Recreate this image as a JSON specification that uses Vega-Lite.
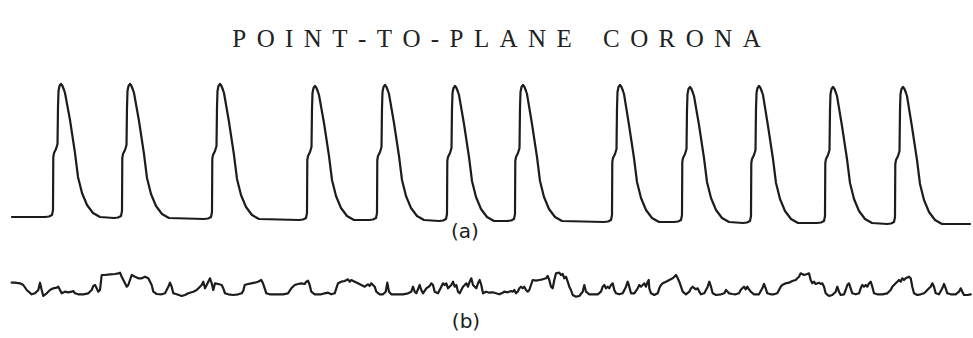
{
  "$schema": "https://vega.github.io/schema/vega-lite/v6.json",
  "width": 973,
  "height": 338,
  "autosize": {"type": "fit", "contains": "padding"},
  "padding": 0,
  "background": "white",
  "config": {"view": {"stroke": null}},
  "datasets": {
    "traces": [
      {"trace": "a", "t": 12, "v": 121},
      {"trace": "a", "t": 45, "v": 121}, {"trace": "a", "t": 49, "v": 121.5}, {"trace": "a", "t": 52, "v": 123}, {"trace": "a", "t": 53, "v": 128}, {"trace": "a", "t": 53.3, "v": 181}, {"trace": "a", "t": 54, "v": 185}, {"trace": "a", "t": 56, "v": 189}, {"trace": "a", "t": 57.5, "v": 194}, {"trace": "a", "t": 58, "v": 231}, {"trace": "a", "t": 58.5, "v": 247}, {"trace": "a", "t": 59.5, "v": 252}, {"trace": "a", "t": 61, "v": 254}, {"trace": "a", "t": 62.5, "v": 252}, {"trace": "a", "t": 64, "v": 248}, {"trace": "a", "t": 65, "v": 245}, {"trace": "a", "t": 70, "v": 218}, {"trace": "a", "t": 75, "v": 185}, {"trace": "a", "t": 78, "v": 161}, {"trace": "a", "t": 82, "v": 145}, {"trace": "a", "t": 87, "v": 133}, {"trace": "a", "t": 93, "v": 125}, {"trace": "a", "t": 100, "v": 121},
      {"trace": "a", "t": 114, "v": 120}, {"trace": "a", "t": 118, "v": 120.5}, {"trace": "a", "t": 121, "v": 122}, {"trace": "a", "t": 122, "v": 127}, {"trace": "a", "t": 122.3, "v": 180}, {"trace": "a", "t": 123, "v": 184}, {"trace": "a", "t": 125, "v": 188}, {"trace": "a", "t": 126.5, "v": 193}, {"trace": "a", "t": 127, "v": 231}, {"trace": "a", "t": 127.5, "v": 247}, {"trace": "a", "t": 128.5, "v": 252}, {"trace": "a", "t": 130, "v": 254}, {"trace": "a", "t": 131.5, "v": 252}, {"trace": "a", "t": 133, "v": 248}, {"trace": "a", "t": 134, "v": 245}, {"trace": "a", "t": 139, "v": 217}, {"trace": "a", "t": 144, "v": 184}, {"trace": "a", "t": 147, "v": 160}, {"trace": "a", "t": 151, "v": 144}, {"trace": "a", "t": 156, "v": 132}, {"trace": "a", "t": 162, "v": 124}, {"trace": "a", "t": 169, "v": 120},
      {"trace": "a", "t": 204, "v": 119}, {"trace": "a", "t": 208, "v": 119.5}, {"trace": "a", "t": 211, "v": 121}, {"trace": "a", "t": 212, "v": 126}, {"trace": "a", "t": 212.3, "v": 179}, {"trace": "a", "t": 213, "v": 183}, {"trace": "a", "t": 215, "v": 187}, {"trace": "a", "t": 216.5, "v": 192}, {"trace": "a", "t": 217, "v": 231}, {"trace": "a", "t": 217.5, "v": 247}, {"trace": "a", "t": 218.5, "v": 252}, {"trace": "a", "t": 220, "v": 254}, {"trace": "a", "t": 221.5, "v": 252}, {"trace": "a", "t": 223, "v": 248}, {"trace": "a", "t": 224, "v": 245}, {"trace": "a", "t": 229, "v": 216}, {"trace": "a", "t": 234, "v": 183}, {"trace": "a", "t": 237, "v": 159}, {"trace": "a", "t": 241, "v": 143}, {"trace": "a", "t": 246, "v": 131}, {"trace": "a", "t": 252, "v": 123}, {"trace": "a", "t": 259, "v": 119},
      {"trace": "a", "t": 299, "v": 118}, {"trace": "a", "t": 303, "v": 118.5}, {"trace": "a", "t": 306, "v": 120}, {"trace": "a", "t": 307, "v": 125}, {"trace": "a", "t": 307.3, "v": 178}, {"trace": "a", "t": 308, "v": 182}, {"trace": "a", "t": 310, "v": 186}, {"trace": "a", "t": 311.5, "v": 191}, {"trace": "a", "t": 312, "v": 229}, {"trace": "a", "t": 312.5, "v": 245}, {"trace": "a", "t": 313.5, "v": 250}, {"trace": "a", "t": 315, "v": 252}, {"trace": "a", "t": 316.5, "v": 250}, {"trace": "a", "t": 318, "v": 246}, {"trace": "a", "t": 319, "v": 243}, {"trace": "a", "t": 324, "v": 215}, {"trace": "a", "t": 329, "v": 182}, {"trace": "a", "t": 332, "v": 158}, {"trace": "a", "t": 336, "v": 142}, {"trace": "a", "t": 341, "v": 130}, {"trace": "a", "t": 347, "v": 122}, {"trace": "a", "t": 354, "v": 118},
      {"trace": "a", "t": 369, "v": 118}, {"trace": "a", "t": 373, "v": 118.5}, {"trace": "a", "t": 376, "v": 120}, {"trace": "a", "t": 377, "v": 125}, {"trace": "a", "t": 377.3, "v": 178}, {"trace": "a", "t": 378, "v": 182}, {"trace": "a", "t": 380, "v": 186}, {"trace": "a", "t": 381.5, "v": 191}, {"trace": "a", "t": 382, "v": 230}, {"trace": "a", "t": 382.5, "v": 246}, {"trace": "a", "t": 383.5, "v": 251}, {"trace": "a", "t": 385, "v": 253}, {"trace": "a", "t": 386.5, "v": 251}, {"trace": "a", "t": 388, "v": 247}, {"trace": "a", "t": 389, "v": 244}, {"trace": "a", "t": 394, "v": 215}, {"trace": "a", "t": 399, "v": 182}, {"trace": "a", "t": 402, "v": 158}, {"trace": "a", "t": 406, "v": 142}, {"trace": "a", "t": 411, "v": 130}, {"trace": "a", "t": 417, "v": 122}, {"trace": "a", "t": 424, "v": 118},
      {"trace": "a", "t": 439, "v": 117}, {"trace": "a", "t": 443, "v": 117.5}, {"trace": "a", "t": 446, "v": 119}, {"trace": "a", "t": 447, "v": 124}, {"trace": "a", "t": 447.3, "v": 177}, {"trace": "a", "t": 448, "v": 181}, {"trace": "a", "t": 450, "v": 185}, {"trace": "a", "t": 451.5, "v": 190}, {"trace": "a", "t": 452, "v": 229}, {"trace": "a", "t": 452.5, "v": 245}, {"trace": "a", "t": 453.5, "v": 250}, {"trace": "a", "t": 455, "v": 252}, {"trace": "a", "t": 456.5, "v": 250}, {"trace": "a", "t": 458, "v": 246}, {"trace": "a", "t": 459, "v": 243}, {"trace": "a", "t": 464, "v": 214}, {"trace": "a", "t": 469, "v": 181}, {"trace": "a", "t": 472, "v": 157}, {"trace": "a", "t": 476, "v": 141}, {"trace": "a", "t": 481, "v": 129}, {"trace": "a", "t": 487, "v": 121}, {"trace": "a", "t": 494, "v": 117},
      {"trace": "a", "t": 507, "v": 117}, {"trace": "a", "t": 511, "v": 117.5}, {"trace": "a", "t": 514, "v": 119}, {"trace": "a", "t": 515, "v": 124}, {"trace": "a", "t": 515.3, "v": 177}, {"trace": "a", "t": 516, "v": 181}, {"trace": "a", "t": 518, "v": 185}, {"trace": "a", "t": 519.5, "v": 190}, {"trace": "a", "t": 520, "v": 230}, {"trace": "a", "t": 520.5, "v": 246}, {"trace": "a", "t": 521.5, "v": 251}, {"trace": "a", "t": 523, "v": 253}, {"trace": "a", "t": 524.5, "v": 251}, {"trace": "a", "t": 526, "v": 247}, {"trace": "a", "t": 527, "v": 244}, {"trace": "a", "t": 532, "v": 214}, {"trace": "a", "t": 537, "v": 181}, {"trace": "a", "t": 540, "v": 157}, {"trace": "a", "t": 544, "v": 141}, {"trace": "a", "t": 549, "v": 129}, {"trace": "a", "t": 555, "v": 121}, {"trace": "a", "t": 562, "v": 117},
      {"trace": "a", "t": 604, "v": 116}, {"trace": "a", "t": 608, "v": 116.5}, {"trace": "a", "t": 611, "v": 118}, {"trace": "a", "t": 612, "v": 123}, {"trace": "a", "t": 612.3, "v": 176}, {"trace": "a", "t": 613, "v": 180}, {"trace": "a", "t": 615, "v": 184}, {"trace": "a", "t": 616.5, "v": 189}, {"trace": "a", "t": 617, "v": 230}, {"trace": "a", "t": 617.5, "v": 246}, {"trace": "a", "t": 618.5, "v": 251}, {"trace": "a", "t": 620, "v": 253}, {"trace": "a", "t": 621.5, "v": 251}, {"trace": "a", "t": 623, "v": 247}, {"trace": "a", "t": 624, "v": 244}, {"trace": "a", "t": 629, "v": 213}, {"trace": "a", "t": 634, "v": 180}, {"trace": "a", "t": 637, "v": 156}, {"trace": "a", "t": 641, "v": 140}, {"trace": "a", "t": 646, "v": 128}, {"trace": "a", "t": 652, "v": 120}, {"trace": "a", "t": 659, "v": 116},
      {"trace": "a", "t": 674, "v": 116}, {"trace": "a", "t": 678, "v": 116.5}, {"trace": "a", "t": 681, "v": 118}, {"trace": "a", "t": 682, "v": 123}, {"trace": "a", "t": 682.3, "v": 176}, {"trace": "a", "t": 683, "v": 180}, {"trace": "a", "t": 685, "v": 184}, {"trace": "a", "t": 686.5, "v": 189}, {"trace": "a", "t": 687, "v": 228}, {"trace": "a", "t": 687.5, "v": 244}, {"trace": "a", "t": 688.5, "v": 249}, {"trace": "a", "t": 690, "v": 251}, {"trace": "a", "t": 691.5, "v": 249}, {"trace": "a", "t": 693, "v": 245}, {"trace": "a", "t": 694, "v": 242}, {"trace": "a", "t": 699, "v": 213}, {"trace": "a", "t": 704, "v": 180}, {"trace": "a", "t": 707, "v": 156}, {"trace": "a", "t": 711, "v": 140}, {"trace": "a", "t": 716, "v": 128}, {"trace": "a", "t": 722, "v": 120}, {"trace": "a", "t": 729, "v": 116},
      {"trace": "a", "t": 743, "v": 115}, {"trace": "a", "t": 747, "v": 115.5}, {"trace": "a", "t": 750, "v": 117}, {"trace": "a", "t": 751, "v": 122}, {"trace": "a", "t": 751.3, "v": 175}, {"trace": "a", "t": 752, "v": 179}, {"trace": "a", "t": 754, "v": 183}, {"trace": "a", "t": 755.5, "v": 188}, {"trace": "a", "t": 756, "v": 229}, {"trace": "a", "t": 756.5, "v": 245}, {"trace": "a", "t": 757.5, "v": 250}, {"trace": "a", "t": 759, "v": 252}, {"trace": "a", "t": 760.5, "v": 250}, {"trace": "a", "t": 762, "v": 246}, {"trace": "a", "t": 763, "v": 243}, {"trace": "a", "t": 768, "v": 212}, {"trace": "a", "t": 773, "v": 179}, {"trace": "a", "t": 776, "v": 155}, {"trace": "a", "t": 780, "v": 139}, {"trace": "a", "t": 785, "v": 127}, {"trace": "a", "t": 791, "v": 119}, {"trace": "a", "t": 798, "v": 115},
      {"trace": "a", "t": 817, "v": 115}, {"trace": "a", "t": 821, "v": 115.5}, {"trace": "a", "t": 824, "v": 117}, {"trace": "a", "t": 825, "v": 122}, {"trace": "a", "t": 825.3, "v": 175}, {"trace": "a", "t": 826, "v": 179}, {"trace": "a", "t": 828, "v": 183}, {"trace": "a", "t": 829.5, "v": 188}, {"trace": "a", "t": 830, "v": 228}, {"trace": "a", "t": 830.5, "v": 244}, {"trace": "a", "t": 831.5, "v": 249}, {"trace": "a", "t": 833, "v": 251}, {"trace": "a", "t": 834.5, "v": 249}, {"trace": "a", "t": 836, "v": 245}, {"trace": "a", "t": 837, "v": 242}, {"trace": "a", "t": 842, "v": 212}, {"trace": "a", "t": 847, "v": 179}, {"trace": "a", "t": 850, "v": 155}, {"trace": "a", "t": 854, "v": 139}, {"trace": "a", "t": 859, "v": 127}, {"trace": "a", "t": 865, "v": 119}, {"trace": "a", "t": 872, "v": 115},
      {"trace": "a", "t": 887, "v": 114}, {"trace": "a", "t": 891, "v": 114.5}, {"trace": "a", "t": 894, "v": 116}, {"trace": "a", "t": 895, "v": 121}, {"trace": "a", "t": 895.3, "v": 174}, {"trace": "a", "t": 896, "v": 178}, {"trace": "a", "t": 898, "v": 182}, {"trace": "a", "t": 899.5, "v": 187}, {"trace": "a", "t": 900, "v": 228}, {"trace": "a", "t": 900.5, "v": 244}, {"trace": "a", "t": 901.5, "v": 249}, {"trace": "a", "t": 903, "v": 251}, {"trace": "a", "t": 904.5, "v": 249}, {"trace": "a", "t": 906, "v": 245}, {"trace": "a", "t": 907, "v": 242}, {"trace": "a", "t": 912, "v": 211}, {"trace": "a", "t": 917, "v": 178}, {"trace": "a", "t": 920, "v": 154}, {"trace": "a", "t": 924, "v": 138}, {"trace": "a", "t": 929, "v": 126}, {"trace": "a", "t": 935, "v": 118}, {"trace": "a", "t": 942, "v": 114},
      {"trace": "a", "t": 970, "v": 114},

      {"trace": "b", "t": 11.7, "v": 55.3}, {"trace": "b", "t": 15, "v": 55.3}, {"trace": "b", "t": 20, "v": 54.7}, {"trace": "b", "t": 23.3, "v": 53}, {"trace": "b", "t": 26.7, "v": 48}, {"trace": "b", "t": 31.7, "v": 43.7}, {"trace": "b", "t": 35, "v": 44.7}, {"trace": "b", "t": 38.3, "v": 48}, {"trace": "b", "t": 40, "v": 55.3}, {"trace": "b", "t": 41.7, "v": 48}, {"trace": "b", "t": 43.3, "v": 42}, {"trace": "b", "t": 46.7, "v": 44.7}, {"trace": "b", "t": 50, "v": 48}, {"trace": "b", "t": 53.3, "v": 49.7}, {"trace": "b", "t": 56.7, "v": 50.3}, {"trace": "b", "t": 58.3, "v": 51.3}, {"trace": "b", "t": 60, "v": 48}, {"trace": "b", "t": 61.7, "v": 44.7}, {"trace": "b", "t": 65, "v": 46.3}, {"trace": "b", "t": 68.3, "v": 45.7}, {"trace": "b", "t": 71.7, "v": 46.3}, {"trace": "b", "t": 73.3, "v": 47}, {"trace": "b", "t": 75, "v": 44.7}, {"trace": "b", "t": 78.3, "v": 43.7}, {"trace": "b", "t": 83.3, "v": 43.7}, {"trace": "b", "t": 88.3, "v": 44.7}, {"trace": "b", "t": 91.7, "v": 48}, {"trace": "b", "t": 93.3, "v": 52}, {"trace": "b", "t": 95, "v": 53}, {"trace": "b", "t": 96.7, "v": 49.7}, {"trace": "b", "t": 98.3, "v": 46.3}, {"trace": "b", "t": 100, "v": 48},
      {"trace": "b", "t": 101.7, "v": 63}, {"trace": "b", "t": 105, "v": 63}, {"trace": "b", "t": 110, "v": 63.7}, {"trace": "b", "t": 115, "v": 64}, {"trace": "b", "t": 118.3, "v": 64.7}, {"trace": "b", "t": 120, "v": 65.3}, {"trace": "b", "t": 121.7, "v": 61.3}, {"trace": "b", "t": 125, "v": 54.7}, {"trace": "b", "t": 126.7, "v": 51.3}, {"trace": "b", "t": 128.3, "v": 53}, {"trace": "b", "t": 131.7, "v": 63}, {"trace": "b", "t": 135, "v": 61.3}, {"trace": "b", "t": 138.3, "v": 59.7}, {"trace": "b", "t": 141.7, "v": 59.7}, {"trace": "b", "t": 145, "v": 61.3}, {"trace": "b", "t": 148.3, "v": 59.7}, {"trace": "b", "t": 151.7, "v": 53}, {"trace": "b", "t": 153.3, "v": 46.3}, {"trace": "b", "t": 156.7, "v": 44}, {"trace": "b", "t": 161.7, "v": 43.7}, {"trace": "b", "t": 165, "v": 44.7}, {"trace": "b", "t": 168.3, "v": 51.3}, {"trace": "b", "t": 170, "v": 55.3}, {"trace": "b", "t": 171.7, "v": 51.3}, {"trace": "b", "t": 173.3, "v": 44.7}, {"trace": "b", "t": 176.7, "v": 43.7}, {"trace": "b", "t": 181.7, "v": 42}, {"trace": "b", "t": 185, "v": 43}, {"trace": "b", "t": 188.3, "v": 44.7}, {"trace": "b", "t": 193.3, "v": 46.3}, {"trace": "b", "t": 196.7, "v": 48}, {"trace": "b", "t": 200, "v": 51.3},
      {"trace": "b", "t": 201.7, "v": 53}, {"trace": "b", "t": 203.3, "v": 56.3}, {"trace": "b", "t": 205, "v": 49.7}, {"trace": "b", "t": 206.7, "v": 53}, {"trace": "b", "t": 208.3, "v": 56.3}, {"trace": "b", "t": 210, "v": 59.7}, {"trace": "b", "t": 211.7, "v": 54.7}, {"trace": "b", "t": 213.3, "v": 48}, {"trace": "b", "t": 215, "v": 54.7}, {"trace": "b", "t": 218.3, "v": 54}, {"trace": "b", "t": 221.7, "v": 53}, {"trace": "b", "t": 223.3, "v": 49.7}, {"trace": "b", "t": 225, "v": 44.7}, {"trace": "b", "t": 228.3, "v": 43.7}, {"trace": "b", "t": 233.3, "v": 43}, {"trace": "b", "t": 238.3, "v": 43.7}, {"trace": "b", "t": 241.7, "v": 44.7}, {"trace": "b", "t": 243.3, "v": 47.3},
      {"trace": "b", "t": 244.7, "v": 53}, {"trace": "b", "t": 248, "v": 54}, {"trace": "b", "t": 251.3, "v": 54.7}, {"trace": "b", "t": 254.7, "v": 55.3}, {"trace": "b", "t": 258, "v": 56.3}, {"trace": "b", "t": 261.3, "v": 58}, {"trace": "b", "t": 263, "v": 54.7}, {"trace": "b", "t": 264.7, "v": 49.7}, {"trace": "b", "t": 266.3, "v": 44.7}, {"trace": "b", "t": 269.7, "v": 43.7}, {"trace": "b", "t": 276.3, "v": 43.7}, {"trace": "b", "t": 283, "v": 43.7}, {"trace": "b", "t": 288, "v": 44.7}, {"trace": "b", "t": 291.3, "v": 49.7}, {"trace": "b", "t": 294.7, "v": 53}, {"trace": "b", "t": 298, "v": 54}, {"trace": "b", "t": 301.3, "v": 54.7}, {"trace": "b", "t": 304.7, "v": 54}, {"trace": "b", "t": 306.3, "v": 56.3}, {"trace": "b", "t": 308, "v": 57.3}, {"trace": "b", "t": 309.7, "v": 53}, {"trace": "b", "t": 311.3, "v": 46.3}, {"trace": "b", "t": 314.7, "v": 43.7}, {"trace": "b", "t": 321.3, "v": 43.7}, {"trace": "b", "t": 324.7, "v": 44.7}, {"trace": "b", "t": 328, "v": 45.3}, {"trace": "b", "t": 331.3, "v": 43.7}, {"trace": "b", "t": 334.7, "v": 44.7}, {"trace": "b", "t": 336.3, "v": 49.7}, {"trace": "b", "t": 338, "v": 54.7},
      {"trace": "b", "t": 341.3, "v": 56.3}, {"trace": "b", "t": 344.7, "v": 57}, {"trace": "b", "t": 348, "v": 58.7}, {"trace": "b", "t": 349.7, "v": 56.3}, {"trace": "b", "t": 351.3, "v": 58}, {"trace": "b", "t": 354.7, "v": 56.3}, {"trace": "b", "t": 358, "v": 54.7}, {"trace": "b", "t": 361.3, "v": 53}, {"trace": "b", "t": 364.7, "v": 51.3}, {"trace": "b", "t": 368, "v": 53.7}, {"trace": "b", "t": 369.7, "v": 52}, {"trace": "b", "t": 371.3, "v": 54.7}, {"trace": "b", "t": 373, "v": 53}, {"trace": "b", "t": 374.7, "v": 51.3}, {"trace": "b", "t": 376.3, "v": 46.3}, {"trace": "b", "t": 379.7, "v": 43.7}, {"trace": "b", "t": 383, "v": 43.7}, {"trace": "b", "t": 385.7, "v": 46.3}, {"trace": "b", "t": 387.3, "v": 55.3}, {"trace": "b", "t": 389, "v": 46.3}, {"trace": "b", "t": 391.3, "v": 43.7}, {"trace": "b", "t": 396.3, "v": 43.7}, {"trace": "b", "t": 403, "v": 43.7}, {"trace": "b", "t": 408, "v": 44.7}, {"trace": "b", "t": 411.3, "v": 46.3}, {"trace": "b", "t": 413, "v": 51.3}, {"trace": "b", "t": 414.7, "v": 46.3}, {"trace": "b", "t": 416.3, "v": 44.7}, {"trace": "b", "t": 419.7, "v": 53}, {"trace": "b", "t": 421.3, "v": 48},
      {"trace": "b", "t": 423, "v": 44.7}, {"trace": "b", "t": 426.3, "v": 49.7}, {"trace": "b", "t": 429.7, "v": 52}, {"trace": "b", "t": 431.3, "v": 54.7}, {"trace": "b", "t": 433, "v": 53}, {"trace": "b", "t": 434.7, "v": 46.3}, {"trace": "b", "t": 438, "v": 44.7}, {"trace": "b", "t": 441.3, "v": 51.3}, {"trace": "b", "t": 443, "v": 54.7}, {"trace": "b", "t": 444.7, "v": 53}, {"trace": "b", "t": 446.3, "v": 54.7}, {"trace": "b", "t": 448, "v": 49.7}, {"trace": "b", "t": 451.3, "v": 53}, {"trace": "b", "t": 453, "v": 56.3}, {"trace": "b", "t": 454.7, "v": 51.3}, {"trace": "b", "t": 456.3, "v": 53}, {"trace": "b", "t": 458, "v": 46.3}, {"trace": "b", "t": 459.7, "v": 44.7}, {"trace": "b", "t": 461.3, "v": 48}, {"trace": "b", "t": 463, "v": 51.3}, {"trace": "b", "t": 464.7, "v": 53}, {"trace": "b", "t": 466.3, "v": 54.7}, {"trace": "b", "t": 468, "v": 51.3}, {"trace": "b", "t": 469.7, "v": 56.3}, {"trace": "b", "t": 471.3, "v": 59.7}, {"trace": "b", "t": 473, "v": 53}, {"trace": "b", "t": 474.7, "v": 51.3}, {"trace": "b", "t": 476.3, "v": 49.7}, {"trace": "b", "t": 478, "v": 54.7}, {"trace": "b", "t": 479.7, "v": 58}, {"trace": "b", "t": 481.3, "v": 53}, {"trace": "b", "t": 483, "v": 44.7},
      {"trace": "b", "t": 486, "v": 46.3}, {"trace": "b", "t": 489.3, "v": 45.3}, {"trace": "b", "t": 492.7, "v": 45.7}, {"trace": "b", "t": 496, "v": 44.7}, {"trace": "b", "t": 499.3, "v": 43.7}, {"trace": "b", "t": 502.7, "v": 45.3}, {"trace": "b", "t": 504.3, "v": 46.3}, {"trace": "b", "t": 507.7, "v": 45.7}, {"trace": "b", "t": 511, "v": 47}, {"trace": "b", "t": 512.7, "v": 46.3}, {"trace": "b", "t": 514.3, "v": 48}, {"trace": "b", "t": 516, "v": 44.7}, {"trace": "b", "t": 517.7, "v": 46.3}, {"trace": "b", "t": 519.3, "v": 49.7}, {"trace": "b", "t": 521, "v": 51.3}, {"trace": "b", "t": 522.7, "v": 49.7}, {"trace": "b", "t": 524.3, "v": 51.3}, {"trace": "b", "t": 526, "v": 48}, {"trace": "b", "t": 527.7, "v": 46.3}, {"trace": "b", "t": 529.3, "v": 48}, {"trace": "b", "t": 531, "v": 53}, {"trace": "b", "t": 532.7, "v": 58}, {"trace": "b", "t": 536, "v": 57.3}, {"trace": "b", "t": 539.3, "v": 58}, {"trace": "b", "t": 542.7, "v": 58.7}, {"trace": "b", "t": 546, "v": 59.7}, {"trace": "b", "t": 547.7, "v": 62}, {"trace": "b", "t": 549.3, "v": 58}, {"trace": "b", "t": 551, "v": 51.3}, {"trace": "b", "t": 552.7, "v": 49.7},
      {"trace": "b", "t": 554.3, "v": 58}, {"trace": "b", "t": 556, "v": 64.7}, {"trace": "b", "t": 559.3, "v": 65.3}, {"trace": "b", "t": 561, "v": 63}, {"trace": "b", "t": 562.7, "v": 64}, {"trace": "b", "t": 564.3, "v": 59.7}, {"trace": "b", "t": 566, "v": 61.3}, {"trace": "b", "t": 567.7, "v": 56.3}, {"trace": "b", "t": 569.3, "v": 51.3}, {"trace": "b", "t": 571, "v": 48}, {"trace": "b", "t": 572.7, "v": 43}, {"trace": "b", "t": 576, "v": 41.3}, {"trace": "b", "t": 579.3, "v": 42}, {"trace": "b", "t": 582.7, "v": 46.3}, {"trace": "b", "t": 584.3, "v": 53}, {"trace": "b", "t": 586, "v": 46.3}, {"trace": "b", "t": 589.3, "v": 43.7}, {"trace": "b", "t": 592.7, "v": 43.7}, {"trace": "b", "t": 597.7, "v": 43.7}, {"trace": "b", "t": 601, "v": 46.3}, {"trace": "b", "t": 602.7, "v": 51.3}, {"trace": "b", "t": 604.3, "v": 53}, {"trace": "b", "t": 606, "v": 49.7}, {"trace": "b", "t": 607.7, "v": 51.3}, {"trace": "b", "t": 609.3, "v": 49.7}, {"trace": "b", "t": 611, "v": 53}, {"trace": "b", "t": 612.7, "v": 54.7}, {"trace": "b", "t": 614.3, "v": 48}, {"trace": "b", "t": 616, "v": 44.7}, {"trace": "b", "t": 619.3, "v": 43.7},
      {"trace": "b", "t": 622.7, "v": 44.7}, {"trace": "b", "t": 626, "v": 51.3}, {"trace": "b", "t": 627.7, "v": 56.3}, {"trace": "b", "t": 629.3, "v": 51.3}, {"trace": "b", "t": 631, "v": 44.7}, {"trace": "b", "t": 634.3, "v": 44.7}, {"trace": "b", "t": 637.7, "v": 49.7}, {"trace": "b", "t": 639.3, "v": 53}, {"trace": "b", "t": 641, "v": 51.3}, {"trace": "b", "t": 642.7, "v": 53}, {"trace": "b", "t": 644.3, "v": 54.7}, {"trace": "b", "t": 646, "v": 51.3}, {"trace": "b", "t": 647.7, "v": 56.3}, {"trace": "b", "t": 648.7, "v": 58}, {"trace": "b", "t": 649.3, "v": 49.7}, {"trace": "b", "t": 651, "v": 44.7}, {"trace": "b", "t": 654.3, "v": 43}, {"trace": "b", "t": 657.7, "v": 44.7}, {"trace": "b", "t": 659.3, "v": 49.7}, {"trace": "b", "t": 661, "v": 53}, {"trace": "b", "t": 662.7, "v": 54.7}, {"trace": "b", "t": 666, "v": 56.3}, {"trace": "b", "t": 669.3, "v": 58}, {"trace": "b", "t": 672.7, "v": 59.7}, {"trace": "b", "t": 674.3, "v": 61.3}, {"trace": "b", "t": 676, "v": 63}, {"trace": "b", "t": 677.7, "v": 59.7}, {"trace": "b", "t": 679.3, "v": 56.3}, {"trace": "b", "t": 681, "v": 51.3}, {"trace": "b", "t": 682.7, "v": 46.3},
      {"trace": "b", "t": 686, "v": 43.7}, {"trace": "b", "t": 689.3, "v": 46.3}, {"trace": "b", "t": 691, "v": 49.7}, {"trace": "b", "t": 692.7, "v": 51.3}, {"trace": "b", "t": 694.3, "v": 49.7}, {"trace": "b", "t": 696, "v": 48.7}, {"trace": "b", "t": 697.7, "v": 49.7}, {"trace": "b", "t": 699.3, "v": 46.3}, {"trace": "b", "t": 701, "v": 43.7}, {"trace": "b", "t": 704.3, "v": 44.7}, {"trace": "b", "t": 707.7, "v": 51.3}, {"trace": "b", "t": 709.3, "v": 56.3}, {"trace": "b", "t": 711, "v": 51.3}, {"trace": "b", "t": 712.7, "v": 44.7}, {"trace": "b", "t": 716, "v": 43}, {"trace": "b", "t": 721, "v": 43.7}, {"trace": "b", "t": 724.3, "v": 44.7}, {"trace": "b", "t": 726, "v": 48},
      {"trace": "b", "t": 729, "v": 44.7}, {"trace": "b", "t": 732.3, "v": 44}, {"trace": "b", "t": 735.7, "v": 43.7}, {"trace": "b", "t": 739, "v": 44.7}, {"trace": "b", "t": 740.7, "v": 48}, {"trace": "b", "t": 742.3, "v": 49.7}, {"trace": "b", "t": 744, "v": 51.3}, {"trace": "b", "t": 745.7, "v": 48.7}, {"trace": "b", "t": 747.3, "v": 51.3}, {"trace": "b", "t": 749, "v": 48.7}, {"trace": "b", "t": 750.7, "v": 46.3}, {"trace": "b", "t": 754, "v": 43.7}, {"trace": "b", "t": 759, "v": 43.7}, {"trace": "b", "t": 762.3, "v": 49.7}, {"trace": "b", "t": 764, "v": 54}, {"trace": "b", "t": 765.7, "v": 49.7}, {"trace": "b", "t": 767.3, "v": 44.7}, {"trace": "b", "t": 770.7, "v": 43.7}, {"trace": "b", "t": 774, "v": 43.7}, {"trace": "b", "t": 777.3, "v": 44.7}, {"trace": "b", "t": 779, "v": 48}, {"trace": "b", "t": 780.7, "v": 51.3}, {"trace": "b", "t": 782.3, "v": 53}, {"trace": "b", "t": 785.7, "v": 54.7}, {"trace": "b", "t": 789, "v": 55.3}, {"trace": "b", "t": 792.3, "v": 57}, {"trace": "b", "t": 795.7, "v": 58}, {"trace": "b", "t": 797.3, "v": 59.7}, {"trace": "b", "t": 799, "v": 61.3}, {"trace": "b", "t": 800.7, "v": 64.7},
      {"trace": "b", "t": 804, "v": 63}, {"trace": "b", "t": 807.3, "v": 64}, {"trace": "b", "t": 809, "v": 64.7}, {"trace": "b", "t": 810.7, "v": 58}, {"trace": "b", "t": 812.3, "v": 54.7}, {"trace": "b", "t": 814, "v": 56.3}, {"trace": "b", "t": 815.7, "v": 54}, {"trace": "b", "t": 819, "v": 55.3}, {"trace": "b", "t": 820.7, "v": 54}, {"trace": "b", "t": 822.3, "v": 54.7}, {"trace": "b", "t": 824, "v": 51.3}, {"trace": "b", "t": 825.7, "v": 44.7}, {"trace": "b", "t": 829, "v": 42}, {"trace": "b", "t": 832.3, "v": 43}, {"trace": "b", "t": 835.7, "v": 46.3}, {"trace": "b", "t": 837.3, "v": 51.3}, {"trace": "b", "t": 839, "v": 46.3}, {"trace": "b", "t": 840.7, "v": 43}, {"trace": "b", "t": 844, "v": 43.7}, {"trace": "b", "t": 845.7, "v": 48}, {"trace": "b", "t": 847.3, "v": 53}, {"trace": "b", "t": 849, "v": 54.7}, {"trace": "b", "t": 850.7, "v": 49.7}, {"trace": "b", "t": 852.3, "v": 44.7}, {"trace": "b", "t": 855.7, "v": 43.7}, {"trace": "b", "t": 859, "v": 44.7}, {"trace": "b", "t": 860.7, "v": 49.7}, {"trace": "b", "t": 862.3, "v": 53}, {"trace": "b", "t": 864, "v": 51.3}, {"trace": "b", "t": 865.7, "v": 53},
      {"trace": "b", "t": 867.3, "v": 51.3}, {"trace": "b", "t": 869, "v": 54.7}, {"trace": "b", "t": 870.7, "v": 56.3}, {"trace": "b", "t": 872.3, "v": 51.3}, {"trace": "b", "t": 874, "v": 44.7}, {"trace": "b", "t": 877.3, "v": 43.7}, {"trace": "b", "t": 882.3, "v": 43.7}, {"trace": "b", "t": 887.3, "v": 44.7}, {"trace": "b", "t": 890.7, "v": 48}, {"trace": "b", "t": 892.3, "v": 51.3}, {"trace": "b", "t": 894, "v": 53}, {"trace": "b", "t": 895.7, "v": 54.7}, {"trace": "b", "t": 897.3, "v": 56.3}, {"trace": "b", "t": 899, "v": 58}, {"trace": "b", "t": 900.7, "v": 56.3}, {"trace": "b", "t": 902.3, "v": 59.7}, {"trace": "b", "t": 904, "v": 58}, {"trace": "b", "t": 905.7, "v": 59.7}, {"trace": "b", "t": 909, "v": 61.3}, {"trace": "b", "t": 910.7, "v": 59.7}, {"trace": "b", "t": 912.3, "v": 51.3}, {"trace": "b", "t": 914, "v": 44.7}, {"trace": "b", "t": 917.3, "v": 43}, {"trace": "b", "t": 920.7, "v": 43.7}, {"trace": "b", "t": 924, "v": 44.7}, {"trace": "b", "t": 925.7, "v": 46.3}, {"trace": "b", "t": 927.3, "v": 48}, {"trace": "b", "t": 929, "v": 49.7}, {"trace": "b", "t": 930.7, "v": 51.3}, {"trace": "b", "t": 932.3, "v": 54.7},
      {"trace": "b", "t": 934, "v": 51.3}, {"trace": "b", "t": 935.7, "v": 44.7}, {"trace": "b", "t": 939, "v": 43.7}, {"trace": "b", "t": 942.3, "v": 49.7}, {"trace": "b", "t": 944, "v": 54}, {"trace": "b", "t": 945.7, "v": 49.7}, {"trace": "b", "t": 947.3, "v": 44.7}, {"trace": "b", "t": 950.7, "v": 43.7}, {"trace": "b", "t": 955.7, "v": 43.7}, {"trace": "b", "t": 959, "v": 46.3}, {"trace": "b", "t": 960.7, "v": 49.7}, {"trace": "b", "t": 962.3, "v": 46.3}, {"trace": "b", "t": 964, "v": 43}, {"trace": "b", "t": 967.3, "v": 43}, {"trace": "b", "t": 970.7, "v": 43.7}
    ]
  },
  "layer": [
    {
      "data": {"name": "traces"},
      "mark": {"type": "line", "color": "#1c1c1c", "strokeWidth": 2.2, "strokeJoin": "round", "strokeCap": "round"},
      "encoding": {
        "x": {"field": "t", "type": "quantitative", "scale": {"domain": [0, 973], "nice": false, "zero": false}, "axis": null},
        "y": {"field": "v", "type": "quantitative", "scale": {"domain": [0, 338], "nice": false, "zero": false}, "axis": null},
        "detail": {"field": "trace"}
      }
    },
    {
      "data": {"values": [{}]},
      "mark": {"type": "text", "font": "Liberation Serif", "fontSize": 25, "color": "#222222", "align": "center", "baseline": "alphabetic"},
      "encoding": {
        "x": {"datum": 496.5, "type": "quantitative"},
        "y": {"datum": 291, "type": "quantitative"},
        "text": {"value": "P\u00a0\u2006O\u00a0\u2006I\u00a0\u2006N\u00a0\u2006T\u00a0\u2006-\u00a0\u2006T\u00a0\u2006O\u00a0\u2006-\u00a0\u2006P\u00a0\u2006L\u00a0\u2006A\u00a0\u2006N\u00a0\u2006E\u00a0\u2006\u00a0\u2006\u00a0\u2006C\u00a0\u2006O\u00a0\u2006R\u00a0\u2006O\u00a0\u2006N\u00a0\u2006A"}
      }
    },
    {
      "data": {"values": [{}]},
      "mark": {"type": "text", "font": "DejaVu Sans", "fontSize": 20, "color": "#1c1c1c", "align": "center", "baseline": "middle"},
      "encoding": {
        "x": {"datum": 465, "type": "quantitative"},
        "y": {"datum": 106, "type": "quantitative"},
        "text": {"value": "(a)"}
      }
    },
    {
      "data": {"values": [{}]},
      "mark": {"type": "text", "font": "DejaVu Sans", "fontSize": 20, "color": "#1c1c1c", "align": "center", "baseline": "middle"},
      "encoding": {
        "x": {"datum": 466, "type": "quantitative"},
        "y": {"datum": 16, "type": "quantitative"},
        "text": {"value": "(b)"}
      }
    }
  ]
}
